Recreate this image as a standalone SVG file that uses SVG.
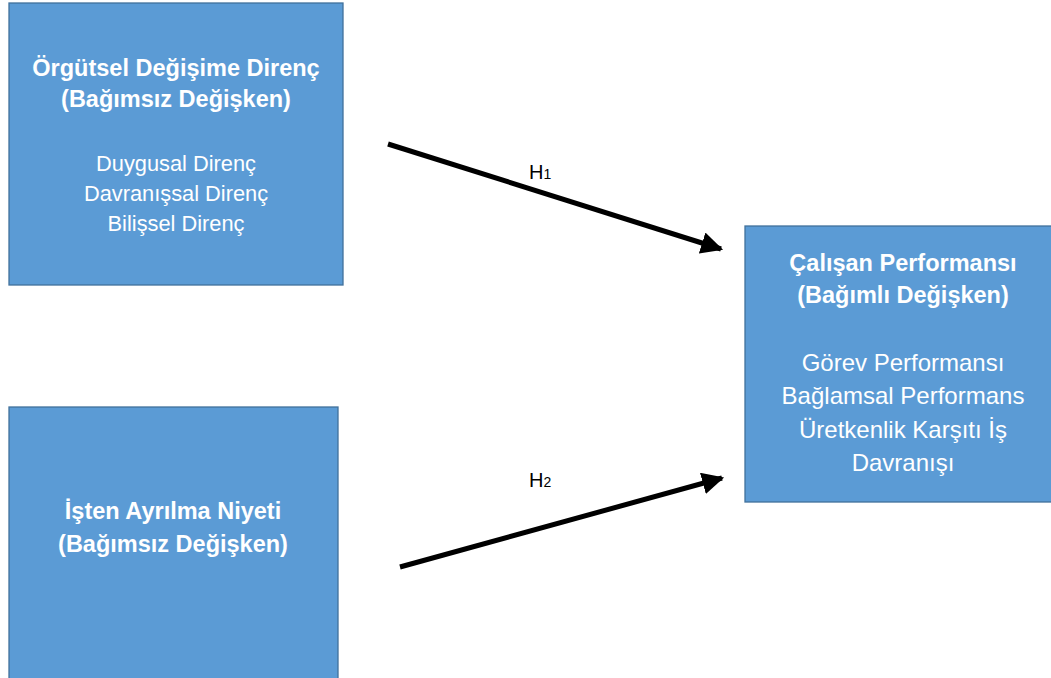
<svg xmlns="http://www.w3.org/2000/svg" width="1051" height="678" viewBox="0 0 1051 678">
  <style>
    .box { fill: #5B9BD5; stroke: #41719C; stroke-width: 1.3; }
    .t { font-family: "Liberation Sans", Arial, sans-serif; fill: #FFFFFF; text-anchor: middle; }
    .b { font-weight: bold; font-size: 23.5px; }
    .r1 { font-size: 21.8px; }
    .r2 { font-size: 24px; }
    .lbl { font-family: "Liberation Sans", Arial, sans-serif; font-size: 20px; fill: #000000; }
    .conn { stroke: #000000; stroke-width: 5; fill: none; }
  </style>
  <defs>
    <marker id="arrow" viewBox="0 0 10 10" refX="9" refY="5" markerWidth="4.4" markerHeight="4.4" orient="auto" markerUnits="strokeWidth">
      <path d="M0,0 L10,5 L0,10 z" fill="#000000"/>
    </marker>
  </defs>
  <rect width="1051" height="678" fill="#FFFFFF"/>

  <g id="node-orgutsel">
    <rect class="box" x="9" y="3" width="334" height="282"/>
    <text class="t b" x="176" y="76">Örgütsel Değişime Direnç</text>
    <text class="t b" x="176" y="107">(Bağımsız Değişken)</text>
    <text class="t r1" x="176" y="171">Duygusal Direnç</text>
    <text class="t r1" x="176" y="201">Davranışsal Direnç</text>
    <text class="t r1" x="176" y="231">Bilişsel Direnç</text>
  </g>

  <g id="node-isten">
    <rect class="box" x="9" y="407" width="329" height="280"/>
    <text class="t b" x="173" y="519">İşten Ayrılma Niyeti</text>
    <text class="t b" x="173" y="552">(Bağımsız Değişken)</text>
  </g>

  <g id="node-performans">
    <rect class="box" x="745" y="226" width="310" height="276"/>
    <text class="t b" x="903" y="271">Çalışan Performansı</text>
    <text class="t b" x="903" y="303">(Bağımlı Değişken)</text>
    <text class="t r2" x="903" y="371">Görev Performansı</text>
    <text class="t r2" x="903" y="404">Bağlamsal Performans</text>
    <text class="t r2" x="903" y="438">Üretkenlik Karşıtı İş</text>
    <text class="t r2" x="903" y="471">Davranışı</text>
  </g>

  <g id="connectors">
    <line class="conn" x1="388" y1="144" x2="721" y2="249" marker-end="url(#arrow)"/>
    <line class="conn" x1="400" y1="567" x2="722" y2="478" marker-end="url(#arrow)"/>
    <text class="lbl" x="529" y="179">H<tspan font-size="14">1</tspan></text>
    <text class="lbl" x="529" y="487">H<tspan font-size="14">2</tspan></text>
  </g>
</svg>
